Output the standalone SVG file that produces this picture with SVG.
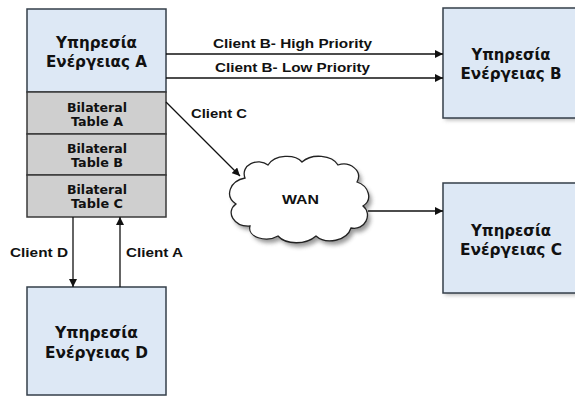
<svg xmlns="http://www.w3.org/2000/svg" width="575" height="396" viewBox="0 0 575 396">
<defs>
<style>
.node{fill:#dde8f5;stroke:#353f4a;stroke-width:1.5}
.tbl{fill:#cfcfcf;stroke:#3a3a3a;stroke-width:1.5}
.nt{font-family:"DejaVu Sans",Verdana,sans-serif;font-weight:bold;font-size:15px;fill:#111;text-anchor:middle}
.tt{font-family:"DejaVu Sans",Verdana,sans-serif;font-weight:bold;font-size:13px;fill:#111;text-anchor:middle}
.lb{font-family:"Liberation Sans",Arial,sans-serif;font-weight:bold;font-size:13.5px;fill:#111}
.ln{stroke:#111;stroke-width:1.3;fill:none}
</style>
<marker id="ah" viewBox="0 0 10 10" refX="10" refY="5" markerWidth="8" markerHeight="8" markerUnits="userSpaceOnUse" orient="auto">
<path d="M0,0 L10,5 L0,10 Z" fill="#111"/>
</marker>
<filter id="sh" x="-10%" y="-10%" width="130%" height="130%">
<feGaussianBlur stdDeviation="2"/>
</filter>
</defs>

<g id="nodeA">
<rect class="node" x="27" y="9" width="139" height="83"/>
<text class="nt" x="96.5" y="48" textLength="81" lengthAdjust="spacingAndGlyphs">Υπηρεσία</text>
<text class="nt" x="96.5" y="67" textLength="101" lengthAdjust="spacingAndGlyphs">Ενέργειας A</text>
</g>
<g id="tableA">
<rect class="tbl" x="27" y="92" width="139" height="42"/>
<text class="tt" x="97" y="112" textLength="60" lengthAdjust="spacingAndGlyphs">Bilateral</text>
<text class="tt" x="97" y="126" textLength="52" lengthAdjust="spacingAndGlyphs">Table A</text>
</g>
<g id="tableB">
<rect class="tbl" x="27" y="134" width="139" height="41"/>
<text class="tt" x="97" y="153" textLength="60" lengthAdjust="spacingAndGlyphs">Bilateral</text>
<text class="tt" x="97" y="167" textLength="52" lengthAdjust="spacingAndGlyphs">Table B</text>
</g>
<g id="tableC">
<rect class="tbl" x="27" y="175" width="139" height="42"/>
<text class="tt" x="97" y="194" textLength="60" lengthAdjust="spacingAndGlyphs">Bilateral</text>
<text class="tt" x="97" y="208" textLength="52" lengthAdjust="spacingAndGlyphs">Table C</text>
</g>

<g id="nodeB">
<rect x="445" y="10" width="140" height="110" fill="#666" opacity="0.5" filter="url(#sh)"/>
<rect class="node" x="443" y="8" width="140" height="110"/>
<text class="nt" x="511" y="60" textLength="79" lengthAdjust="spacingAndGlyphs">Υπηρεσία</text>
<text class="nt" x="511" y="79" textLength="101" lengthAdjust="spacingAndGlyphs">Ενέργειας B</text>
</g>

<g id="nodeC">
<rect x="445" y="185" width="140" height="110" fill="#666" opacity="0.5" filter="url(#sh)"/>
<rect class="node" x="443" y="183" width="140" height="110"/>
<text class="nt" x="511" y="236" textLength="80" lengthAdjust="spacingAndGlyphs">Υπηρεσία</text>
<text class="nt" x="511" y="255" textLength="102" lengthAdjust="spacingAndGlyphs">Ενέργειας C</text>
</g>

<g id="nodeD">
<rect class="node" x="27" y="287" width="139" height="108"/>
<text class="nt" x="96.5" y="338" textLength="83" lengthAdjust="spacingAndGlyphs">Υπηρεσία</text>
<text class="nt" x="96.5" y="358" textLength="103" lengthAdjust="spacingAndGlyphs">Ενέργειας D</text>
</g>

<g id="wan">
<path d="M245,178 C240,165 258,157 268,165 C275,154 295,154 302,162 C312,153 332,155 338,165 C350,161 363,171 357,182 C369,186 373,200 363,206 C373,214 365,231 351,228 C347,241 326,245 316,236 C306,245 286,245 278,236 C266,243 247,237 250,226 C234,227 225,212 236,204 C224,196 230,181 245,178 Z" fill="#555" opacity="0.6" transform="translate(3,4)" filter="url(#sh)"/>
<path d="M245,178 C240,165 258,157 268,165 C275,154 295,154 302,162 C312,153 332,155 338,165 C350,161 363,171 357,182 C369,186 373,200 363,206 C373,214 365,231 351,228 C347,241 326,245 316,236 C306,245 286,245 278,236 C266,243 247,237 250,226 C234,227 225,212 236,204 C224,196 230,181 245,178 Z" fill="#fff" stroke="#222" stroke-width="1.3"/>
<text class="lb" x="282" y="204" font-size="14.5" textLength="37" lengthAdjust="spacingAndGlyphs">WAN</text>
</g>

<g id="connectors">
<line class="ln" x1="166" y1="54" x2="443" y2="54" marker-end="url(#ah)"/>
<line class="ln" x1="166" y1="78" x2="443" y2="78" marker-end="url(#ah)"/>
<line class="ln" x1="166" y1="102" x2="240" y2="176" marker-end="url(#ah)"/>
<line class="ln" x1="368" y1="211" x2="443" y2="211" marker-end="url(#ah)"/>
<line class="ln" x1="73" y1="217" x2="73" y2="287" marker-end="url(#ah)"/>
<line class="ln" x1="120" y1="287" x2="120" y2="217" marker-end="url(#ah)"/>
<text class="lb" x="213" y="48" textLength="159" lengthAdjust="spacingAndGlyphs">Client B- High Priority</text>
<text class="lb" x="215" y="72" textLength="155" lengthAdjust="spacingAndGlyphs">Client B- Low Priority</text>
<text class="lb" x="191" y="118" font-size="14.5" textLength="56" lengthAdjust="spacingAndGlyphs">Client C</text>
<text class="lb" x="10" y="257" font-size="14.5" textLength="58" lengthAdjust="spacingAndGlyphs">Client D</text>
<text class="lb" x="126" y="257" font-size="14.5" textLength="57" lengthAdjust="spacingAndGlyphs">Client A</text>
</g>
</svg>
